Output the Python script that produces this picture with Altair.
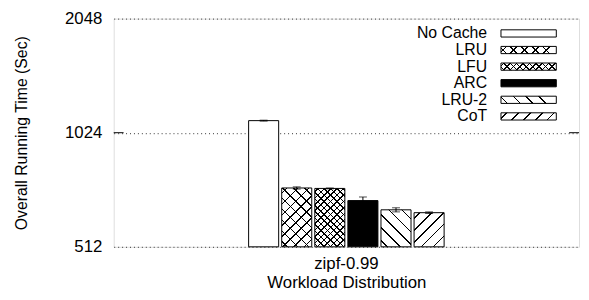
import altair as alt
import pandas as pd
import math

# ---- data ----
distribution = "zipf-0.99"
methods = ["No Cache", "LRU", "LFU", "ARC", "LRU-2", "CoT"]
values = [1102, 732, 730, 678, 641, 630]
errors = [3, 5, 2, 15, 8, 3]
y_ticks = [512, 1024, 2048]

# ---- styling ----
FONT = "Liberation Sans"
PLOT_W, PLOT_H = 471, 231
BAR_W = 30.4
CLEAR = "rgba(255,255,255,0)"
base_fills = ["white", "white", "white", "black", "white", "white"]
# hatch families per method: (direction, period in px)
patterns = {
    "LRU": [("/", 11), ("\\", 11)],
    "LFU": [("/", 6.5), ("\\", 6.5)],
    "LRU-2": [("\\", 13)],
    "CoT": [("/", 12)],
}

df = pd.DataFrame({
    "dist": distribution,
    "method": methods,
    "value": values,
    "lo": [v - e for v, e in zip(values, errors)],
    "hi": [v + e for v, e in zip(values, errors)],
})
tick_df = pd.DataFrame({"t": [1024]})
leg_df = pd.DataFrame({"method": methods})


def hatch(W, H, P, d, lw=1.5):
    K = (W * W + H * H) / W
    total = W + H
    stops = []
    s = P / 2.0
    while s - lw / 2 < total:
        a = round(max(0.0, (s - lw / 2) / K), 5)
        b = round(min(1.0, (s + lw / 2) / K), 5)
        stops += [
            alt.GradientStop(color=CLEAR, offset=a),
            alt.GradientStop(color="black", offset=a),
            alt.GradientStop(color="black", offset=b),
            alt.GradientStop(color=CLEAR, offset=b),
        ]
        s += P
    r = H / W
    if d == "/":
        x1, y1, x2, y2 = 0, 0, 1, r
    else:
        x1, y1, x2, y2 = 0, 1, 1, 1 - r
    return alt.LinearGradient(gradient="linear", stops=stops,
                              x1=x1, y1=y1, x2=x2, y2=y2)


yscale = alt.Scale(type="log", base=2, domain=[512, 2048], nice=False)
yaxis = alt.Axis(values=y_ticks, format="d", ticks=False, domain=False,
                 grid=True, gridDash=[1, 3], gridColor="#333", gridWidth=1,
                 labelFontSize=17, labelFont=FONT, labelColor="black",
                 labelPadding=12,
                 title="Overall Running Time (Sec)", titleFontSize=16,
                 titleFont=FONT, titleFontWeight="normal", titleColor="black",
                 titleX=-93, titleY=PLOT_H / 2, titleAngle=-90,
                 titleAlign="center", titleBaseline="middle")
xaxis = alt.Axis(labelAngle=0, ticks=False, domain=False,
                 labelFontSize=17, labelFont=FONT, labelColor="black",
                 labelPadding=22, labelBaseline="alphabetic",
                 title="Workload Distribution", titleFontSize=17,
                 titleFont=FONT, titleFontWeight="normal", titleColor="black",
                 titleY=41, titleBaseline="alphabetic")

X = alt.X("dist:N", scale=alt.Scale(paddingOuter=0.69, paddingInner=0), axis=xaxis)
XO = alt.XOffset("method:N", scale=alt.Scale(domain=methods, paddingInner=0.092, paddingOuter=0))


def Y(field):
    return alt.Y(field, scale=yscale, axis=yaxis)


Y2 = alt.Y2(datum=512)

base = alt.Chart(df).mark_bar(stroke="black", strokeWidth=1).encode(
    x=X, xOffset=XO, y=Y("value:Q"), y2=Y2,
    fill=alt.Fill("method:N", scale=alt.Scale(domain=methods, range=base_fills), legend=None),
)

layers = [base]
for m, v in zip(methods, values):
    if m not in patterns:
        continue
    H = PLOT_H * math.log2(v / 512) / 2
    for d, P in patterns[m]:
        layers.append(
            alt.Chart(df).transform_filter(alt.datum.method == m)
            .mark_bar(fill=hatch(BAR_W, H, P, d), strokeWidth=0)
            .encode(x=X, xOffset=XO, y=Y("value:Q"), y2=Y2)
        )

err = alt.Chart(df).mark_rule(color="black", strokeWidth=1).encode(
    x=X, xOffset=XO, y=Y("lo:Q"), y2="hi:Q")
cap_lo = alt.Chart(df).mark_tick(color="black", size=8, thickness=1).encode(
    x=X, xOffset=XO, y=Y("lo:Q"))
cap_hi = alt.Chart(df).mark_tick(color="black", size=8, thickness=1).encode(
    x=X, xOffset=XO, y=Y("hi:Q"))
inner_ticks_l = alt.Chart(tick_df).mark_rule(color="black", strokeWidth=1).encode(
    x=alt.value(0), x2=alt.value(10), y=Y("t:Q"))
inner_ticks_r = alt.Chart(tick_df).mark_rule(color="black", strokeWidth=1).encode(
    x=alt.value(PLOT_W - 10), x2=alt.value(PLOT_W), y=Y("t:Q"))
layers += [err, cap_lo, cap_hi, inner_ticks_l, inner_ticks_r]
data_layer = alt.layer(*layers)

# ---- hand-built legend ----
LEG_W, LEG_H = 56, 7.31
LY = alt.Y("method:N", scale=alt.Scale(domain=methods, range=[11.35, 102.65],
                                        paddingInner=0.565, paddingOuter=0), axis=None)
leg_text = alt.Chart(leg_df).mark_text(align="right", baseline="middle",
                                       fontSize=16, font=FONT, color="black").encode(
    x=alt.value(378), y=LY, text="method:N")
leg_box = alt.Chart(leg_df).mark_rect(stroke="black", strokeWidth=1).encode(
    x=alt.value(392), x2=alt.value(448), y=LY,
    fill=alt.Fill("method:N", scale=alt.Scale(domain=methods, range=base_fills), legend=None))
leg_layers = [leg_text, leg_box]
for m in methods:
    if m not in patterns:
        continue
    for d, P in patterns[m]:
        leg_layers.append(
            alt.Chart(leg_df).transform_filter(alt.datum.method == m)
            .mark_rect(fill=hatch(LEG_W, LEG_H, P, d), strokeWidth=0)
            .encode(x=alt.value(392), x2=alt.value(448), y=LY)
        )
legend_layer = alt.layer(*leg_layers)

chart = alt.layer(data_layer, legend_layer).resolve_scale(
    y="independent", fill="independent"
).properties(
    width=PLOT_W, height=PLOT_H,
    autosize=alt.AutoSizeParams(type="none"),
    padding={"left": 107, "top": 9, "right": 2, "bottom": 44},
    background="white",
).configure_view(stroke="black", strokeWidth=1.5).configure(font=FONT)

chart.save("out.html", embed_options={"renderer": "svg", "actions": False})
